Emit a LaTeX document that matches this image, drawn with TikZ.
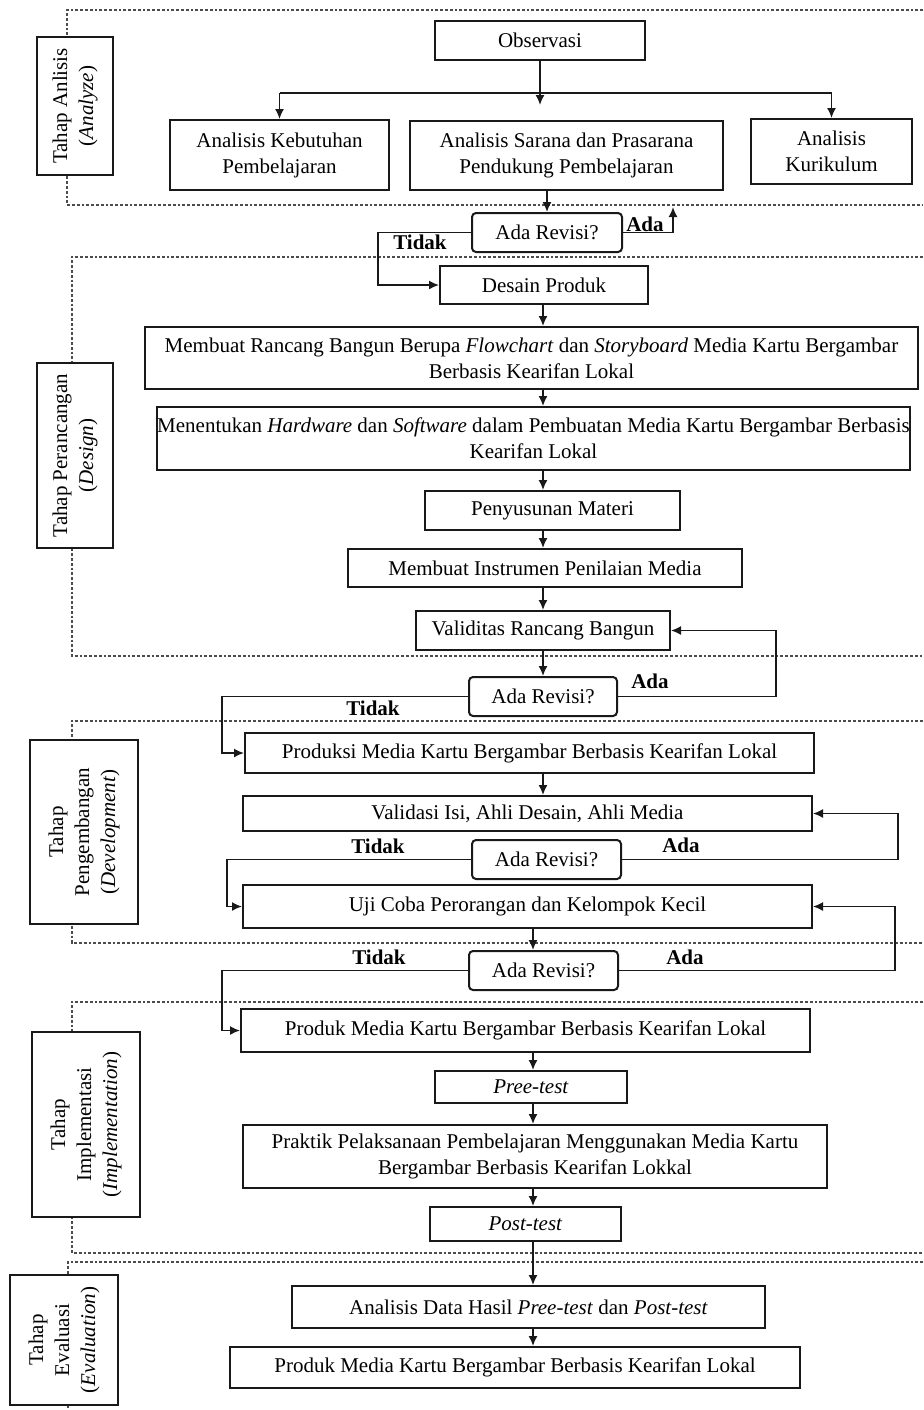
\documentclass[tikz,border=0pt]{standalone}
\usepackage{fontspec}
\setmainfont{Liberation Serif}
\usetikzlibrary{arrows.meta}

\newlength{\du}
\setlength{\du}{0.5pt}

\definecolor{framecolor}{rgb}{0.300000, 0.300000, 0.300000}
\definecolor{linecolor}{rgb}{0.100000, 0.100000, 0.100000}

\tikzset{
  stepbox/.style={draw=linecolor, line width=1pt, fill=white, align=center,
    inner sep=1pt, font=\fontsize{10.5}{13}\selectfont},
  revbox/.style={stepbox, rounded corners=4\du},
  tahapbox/.style={stepbox, rotate=90},
  framebox/.style={draw=framecolor, line width=1.4pt, densely dotted},
  flow/.style={draw=linecolor, line width=0.8pt, -{Latex[length=5pt,width=4.5pt]}},
  plain/.style={draw=linecolor, line width=0.8pt},
  answer/.style={inner sep=0pt, font=\fontsize{10.5}{12}\selectfont\bfseries},
}

\begin{document}
\begin{tikzpicture}
\pgftransformyscale{-1.000000}
\useasboundingbox (0\du,0\du) rectangle (923\du,1410\du);
% dotted frames of the stages
\draw[framebox] (923\du,10\du)--(67\du,10\du)--(67\du,205\du)--(923\du,205\du);
\draw[framebox] (923\du,257\du)--(72\du,257\du)--(72\du,656\du)--(923\du,656\du);
\draw[framebox] (923\du,721\du)--(72\du,721\du)--(72\du,943\du)--(923\du,943\du);
\draw[framebox] (923\du,1002\du)--(72\du,1002\du)--(72\du,1253\du)--(923\du,1253\du);
\draw[framebox] (923\du,1262\du)--(68\du,1262\du)--(68\du,1410\du);
% stage labels
\node[tahapbox, minimum width=138\du, minimum height=76\du] (tahapA) at (75\du,106\du)
  {Tahap Anlisis\\(\textit{Analyze})};
\node[tahapbox, minimum width=185\du, minimum height=76\du] (tahapB) at (75\du,455.5\du)
  {Tahap Perancangan\\(\textit{Design})};
\node[tahapbox, minimum width=184\du, minimum height=108\du] (tahapC) at (84\du,832\du)
  {Tahap\\Pengembangan\\(\textit{Development})};
\node[tahapbox, minimum width=185\du, minimum height=108\du] (tahapD) at (86\du,1124.5\du)
  {Tahap\\Implementasi\\(\textit{Implementation})};
\node[tahapbox, minimum width=130\du, minimum height=108\du] (tahapE) at (64\du,1340\du)
  {Tahap\\Evaluasi\\(\textit{Evaluation})};
% analyze
\node[stepbox, minimum width=210\du, minimum height=39\du] (obs) at (540\du,40.5\du) {Observasi};
\node[stepbox, minimum width=219\du, minimum height=70\du] (kebutuhan) at (279.5\du,155\du)
  {Analisis Kebutuhan\\Pembelajaran};
\node[stepbox, minimum width=313\du, minimum height=69\du] (sarana) at (566.5\du,155.5\du)
  {Analisis Sarana dan Prasarana\\Pendukung Pembelajaran};
\node[stepbox, minimum width=161\du, minimum height=65\du] (kurikulum) at (831.5\du,151.5\du)
  {Analisis\\Kurikulum};
\node[revbox, minimum width=150\du, minimum height=39\du] (rev1) at (547\du,232.5\du) {Ada Revisi?};
% design
\node[stepbox, minimum width=208\du, minimum height=38\du] (desain) at (544\du,285\du) {Desain Produk};
\node[stepbox, minimum width=773\du, minimum height=62\du] (rancang) at (531.5\du,358\du)
  {Membuat Rancang Bangun Berupa \textit{Flowchart} dan \textit{Storyboard} Media Kartu Bergambar\\Berbasis Kearifan Lokal};
\node[stepbox, minimum width=753\du, minimum height=63\du, inner sep=0pt] (hw) at (533.5\du,438.5\du)
  {Menentukan \textit{Hardware} dan \textit{Software} dalam Pembuatan Media Kartu Bergambar Berbasis\\Kearifan Lokal};
\node[stepbox, minimum width=255\du, minimum height=39\du] (materi) at (552.5\du,510.5\du) {Penyusunan Materi};
\node[stepbox, minimum width=394\du, minimum height=38\du] (instrumen) at (545\du,568\du)
  {Membuat Instrumen Penilaian Media};
\node[stepbox, minimum width=254\du, minimum height=39\du] (validitas) at (543\du,630.5\du)
  {Validitas Rancang Bangun};
\node[revbox, minimum width=148\du, minimum height=39\du] (rev2) at (543\du,696.5\du) {Ada Revisi?};
% development
\node[stepbox, minimum width=569\du, minimum height=40\du] (produksi) at (529.5\du,753\du)
  {Produksi Media Kartu Bergambar Berbasis Kearifan Lokal};
\node[stepbox, minimum width=569\du, minimum height=35\du] (validasi) at (527.5\du,813.5\du)
  {Validasi Isi, Ahli Desain, Ahli Media};
\node[revbox, minimum width=149\du, minimum height=39\du] (rev3) at (546.5\du,859.5\du) {Ada Revisi?};
\node[stepbox, minimum width=569\du, minimum height=43\du] (ujicoba) at (527.5\du,906.5\du)
  {Uji Coba Perorangan dan Kelompok Kecil};
\node[revbox, minimum width=149\du, minimum height=39\du] (rev4) at (543.5\du,970.5\du) {Ada Revisi?};
% implementation
\node[stepbox, minimum width=569\du, minimum height=43\du] (produk) at (525.5\du,1030.5\du)
  {Produk Media Kartu Bergambar Berbasis Kearifan Lokal};
\node[stepbox, minimum width=192\du, minimum height=32\du] (pretest) at (531\du,1087\du) {\textit{Pree-test}};
\node[stepbox, minimum width=584\du, minimum height=63\du] (praktik) at (535\du,1156.5\du)
  {Praktik Pelaksanaan Pembelajaran Menggunakan Media Kartu\\Bergambar Berbasis Kearifan Lokkal};
\node[stepbox, minimum width=191\du, minimum height=34\du] (posttest) at (525.5\du,1224\du) {\textit{Post-test}};
% evaluation
\node[stepbox, minimum width=473\du, minimum height=42\du] (analisis) at (528.5\du,1307\du)
  {Analisis Data Hasil \textit{Pree-test} dan \textit{Post-test}};
\node[stepbox, minimum width=570\du, minimum height=41\du] (final) at (515\du,1367.5\du)
  {Produk Media Kartu Bergambar Berbasis Kearifan Lokal};
% answers
\node[answer] (ada1) at (645\du,224\du) {Ada};
\node[answer] (tidak1) at (420\du,242\du) {Tidak};
\node[answer] (ada2) at (650\du,681\du) {Ada};
\node[answer] (tidak2) at (373\du,708\du) {Tidak};
\node[answer] (ada3) at (681\du,845\du) {Ada};
\node[answer] (tidak3) at (378\du,846\du) {Tidak};
\node[answer] (ada4) at (685\du,957\du) {Ada};
\node[answer] (tidak4) at (379\du,957\du) {Tidak};
% bends
\coordinate (spine) at (543\du,0\du);
\coordinate (spineb) at (533\du,0\du);
\coordinate (split) at (540\du,93\du);
\coordinate (obstip) at (540\du,105\du);
\coordinate (adatip1) at (673\du,207\du);
\coordinate (t1) at (378\du,232.5\du);
\coordinate (a2) at (776\du,696.5\du);
\coordinate (t2) at (222\du,696.5\du);
\coordinate (a3) at (898\du,859.5\du);
\coordinate (t3) at (227\du,859.5\du);
\coordinate (a4) at (895\du,970.5\du);
\coordinate (t4) at (222\du,970.5\du);
% connectors
\draw[flow] (obs.south) -- (obstip);
\draw[plain] (split -| kebutuhan.north) -- (split -| kurikulum.north);
\draw[flow] (split -| kebutuhan.north) -- (kebutuhan.north);
\draw[flow] (split -| kurikulum.north) -- (kurikulum.north);
\draw[flow] (rev1.north |- sarana.south) -- (rev1.north);
\draw[flow] (rev1.east) -| (adatip1);
\draw[flow] (rev1.west) -- (t1) |- (desain.west);
\draw[flow] (spine |- desain.south) -- (spine |- rancang.north);
\draw[flow] (spine |- rancang.south) -- (spine |- hw.north);
\draw[flow] (spine |- hw.south) -- (spine |- materi.north);
\draw[flow] (spine |- materi.south) -- (spine |- instrumen.north);
\draw[flow] (spine |- instrumen.south) -- (spine |- validitas.north);
\draw[flow] (spine |- validitas.south) -- (spine |- rev2.north);
\draw[flow] (rev2.east) -- (a2) |- (validitas.east);
\draw[flow] (rev2.west) -- (t2) |- (produksi.west);
\draw[flow] (spine |- produksi.south) -- (spine |- validasi.north);
\draw[flow] (rev3.east) -- (a3) |- (validasi.east);
\draw[flow] (rev3.west) -- (t3) |- (ujicoba.west);
\draw[flow] (spineb |- ujicoba.south) -- (spineb |- rev4.north);
\draw[flow] (rev4.east) -- (a4) |- (ujicoba.east);
\draw[flow] (rev4.west) -- (t4) |- (produk.west);
\draw[flow] (spineb |- produk.south) -- (spineb |- pretest.north);
\draw[flow] (spineb |- pretest.south) -- (spineb |- praktik.north);
\draw[flow] (spineb |- praktik.south) -- (spineb |- posttest.north);
\draw[flow] (spineb |- posttest.south) -- (spineb |- analisis.north);
\draw[flow] (spineb |- analisis.south) -- (spineb |- final.north);
\end{tikzpicture}
\end{document}
